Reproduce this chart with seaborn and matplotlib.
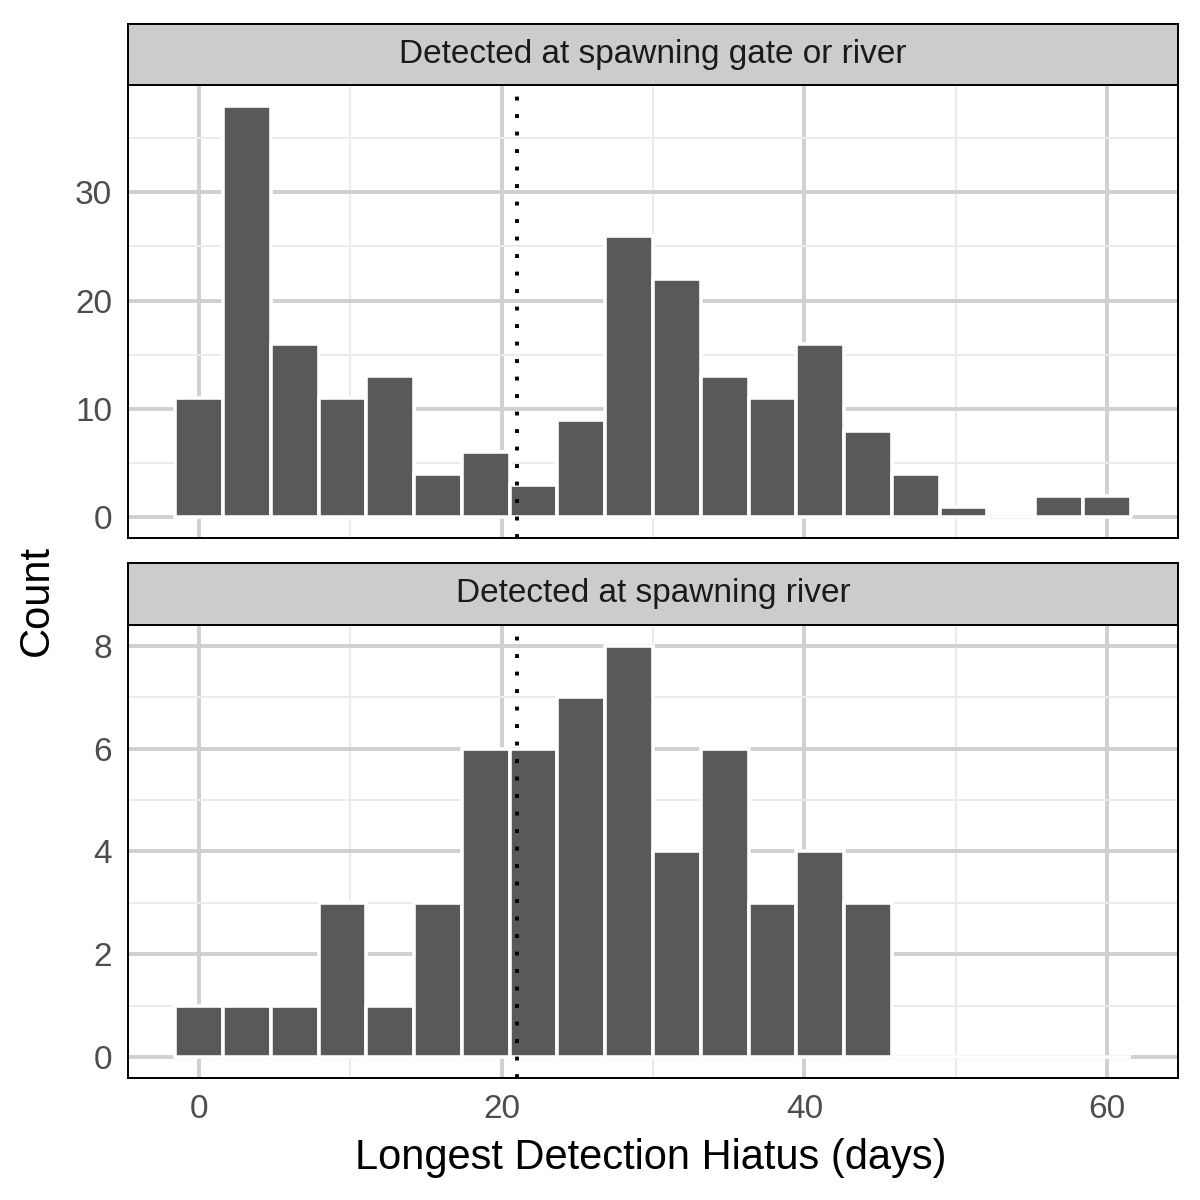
import numpy as np
import pandas as pd
import seaborn as sns
import matplotlib.pyplot as plt
from matplotlib.ticker import MultipleLocator

# Histogramm-Zählwerte je Klasse (20 Klassen, Breite ca. 3.16 Tage, Mitte bei 0)
bin_width = 60 / 19
gate_counts = [11, 38, 16, 11, 13, 4, 6, 3, 9, 26, 22, 13, 11, 16, 8, 4, 1, 0, 2, 2]
river_counts = [1, 1, 1, 3, 1, 3, 6, 6, 7, 8, 4, 6, 3, 4, 3, 0, 0, 0, 0, 0]
panel_titles = ["Detected at spawning gate or river", "Detected at spawning river"]
cutoff_days = 21

n_bins = len(gate_counts)
centers = np.arange(n_bins) * bin_width
edges = list(np.append(centers - bin_width / 2, centers[-1] + bin_width / 2))

df = pd.DataFrame({
    "hiatus": np.concatenate([centers, centers]),
    "count": gate_counts + river_counts,
    "panel": [panel_titles[0]] * n_bins + [panel_titles[1]] * n_bins,
})

sns.set_style("white")
plt.rcParams["font.family"] = ["Liberation Sans", "DejaVu Sans"]

fig = plt.figure(figsize=(6, 6), dpi=200)

# Positionen der Panels und Streifen (Figurkoordinaten)
panels = [
    dict(ax=[0.1067, 0.5517, 0.875, 0.3775], strip=[0.1067, 0.9292, 0.875, 0.0508],
         ylim=(-1.9, 39.9), major=10, minor=5),
    dict(ax=[0.1067, 0.1017, 0.875, 0.3775], strip=[0.1067, 0.4792, 0.875, 0.0517],
         ylim=(-0.4, 8.4), major=2, minor=1),
]

axes = []
for i, (title, p) in enumerate(zip(panel_titles, panels)):
    ax = fig.add_axes(p["ax"])
    sub = df[df["panel"] == title]
    sns.histplot(data=sub, x="hiatus", weights="count", bins=edges, ax=ax,
                 color="#595959", edgecolor="white", linewidth=1.3, alpha=1)
    ax.axvline(cutoff_days, color="black", linestyle=(0, (1, 3.5)), linewidth=1.4, zorder=5)

    ax.set_xlim(-4.7, 64.7)
    ax.set_ylim(*p["ylim"])
    ax.xaxis.set_major_locator(MultipleLocator(20))
    ax.xaxis.set_minor_locator(MultipleLocator(10))
    ax.yaxis.set_major_locator(MultipleLocator(p["major"]))
    ax.yaxis.set_minor_locator(MultipleLocator(p["minor"]))
    ax.set_axisbelow(True)
    ax.grid(which="major", color="#d0d0d0", linewidth=1.4)
    ax.grid(which="minor", color="#ebebeb", linewidth=0.7)
    ax.tick_params(which="minor", length=0)
    ax.tick_params(which="major", length=3.2, width=1.0, color="#333333",
                   labelsize=12, labelcolor="#4d4d4d", pad=2.5)
    for s in ax.spines.values():
        s.set_color("black")
        s.set_linewidth(0.7)
    ax.set_xlabel("")
    ax.set_ylabel("")
    if i == 0:
        ax.tick_params(axis="x", which="both", length=0, labelbottom=False)

    # Streifen mit Panel-Titel
    sax = fig.add_axes(p["strip"])
    sax.set_facecolor("#cccccc")
    sax.set_xticks([])
    sax.set_yticks([])
    for s in sax.spines.values():
        s.set_color("black")
        s.set_linewidth(0.7)
    sax.text(0.5, 0.5, title, ha="center", va="center", fontsize=12,
             color="#1a1a1a", transform=sax.transAxes)
    axes.append(ax)

fig.text(0.5421, 0.035, "Longest Detection Hiatus (days)", ha="center", va="center",
         fontsize=15, color="black")
fig.text(0.031, 0.5, "Count", ha="center", va="center", rotation=90,
         fontsize=15, color="black")

fig.savefig("out.png", dpi=200)
